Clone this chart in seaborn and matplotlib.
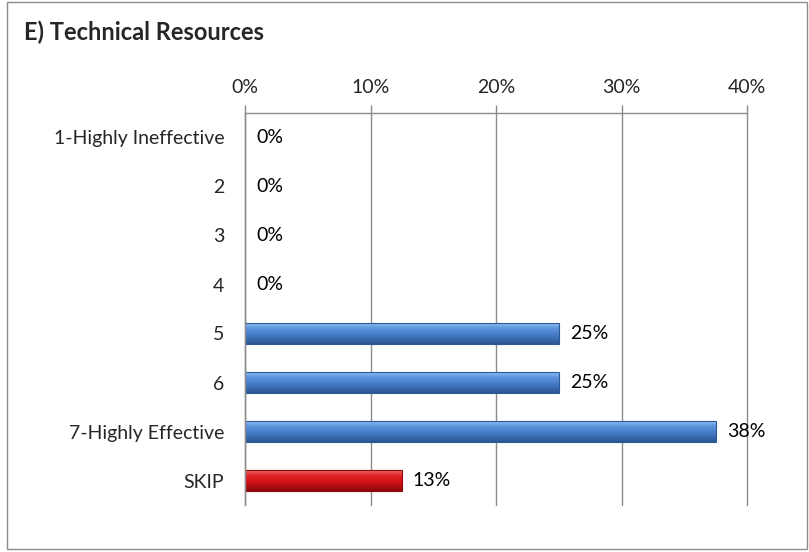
import matplotlib
matplotlib.use("Agg")
import matplotlib.pyplot as plt
import seaborn as sns
import pandas as pd
import numpy as np
from matplotlib.patches import Rectangle
from matplotlib.colors import LinearSegmentedColormap

categories = ["1-Highly Ineffective", "2", "3", "4", "5", "6", "7-Highly Effective", "SKIP"]
values = [0.0, 0.0, 0.0, 0.0, 25.0, 25.0, 37.5, 12.5]
value_labels = ["0%", "0%", "0%", "0%", "25%", "25%", "38%", "13%"]
x_ticks = [0, 10, 20, 30, 40]
x_tick_labels = ["0%", "10%", "20%", "30%", "40%"]
title = "E) Technical Resources"

blue = "#4a80cc"
red = "#d8151b"
bar_colors = [blue] * 7 + [red]

sns.set_theme(style="white")
plt.rcParams["font.family"] = ["Lato", "DejaVu Sans"]

df = pd.DataFrame({"category": categories, "value": values})

fig = plt.figure(figsize=(8.09, 5.52), dpi=100)
ax = fig.add_axes([245 / 809, 47 / 552, 502 / 809, 392 / 552])

sns.barplot(data=df, x="value", y="category", hue="category",
            palette=dict(zip(categories, bar_colors)), legend=False,
            width=0.42, ax=ax, saturation=1.0, orient="h")

blue_cmap = LinearSegmentedColormap.from_list("b", ["#8cbcf0", "#5b93dc", "#4a80cc", "#3a6cb2", "#2c5790"])
red_cmap = LinearSegmentedColormap.from_list("r", ["#f06a6a", "#e0262a", "#d8151b", "#b80e12", "#8c080b"])
edge_cols = ["#dcdcdc"] * 4 + ["#2d5a96"] * 3 + ["#8a0a0e"]
grad = np.linspace(0, 1, 64).reshape(-1, 1)
for p, ec, col in zip(ax.patches, edge_cols, bar_colors):
    p.set_edgecolor(ec)
    p.set_linewidth(0.8)
    w = p.get_width()
    if w > 0:
        x0, y0 = p.get_x(), p.get_y()
        h = p.get_height()
        cmap = blue_cmap if col == blue else red_cmap
        im = ax.imshow(grad, cmap=cmap, aspect="auto",
                       extent=(x0, x0 + w, y0 + h, y0), origin="upper", zorder=p.get_zorder() + 0.1)
        im.set_clip_path(p)
        p.set_facecolor("none")
        p.set_zorder(p.get_zorder() + 0.2)

for i, (v, lab) in enumerate(zip(values, value_labels)):
    ax.annotate(lab, xy=(v, i), xytext=(11, 0), textcoords="offset pixels",
                ha="left", va="center", fontsize=14, color="black")

ax.set_xlim(0, 40)
ax.set_ylim(7.5, -0.5)
ax.set_aspect("auto")
ax.xaxis.tick_top()
ax.set_xticks(x_ticks)
ax.set_xticklabels(x_tick_labels, fontsize=14)
ax.set_yticks(range(len(categories)))
ax.set_yticklabels(categories, fontsize=14)
ax.set_yticks(np.arange(-0.5, 8.0, 1.0), minor=True)
ax.tick_params(axis="y", which="major", length=0, pad=15)
ax.tick_params(axis="y", which="minor", length=6, width=1, color="#888888", direction="out")
ax.tick_params(axis="x", which="major", length=6, width=1, color="#888888", direction="out", pad=6)
ax.set_xlabel("")
ax.set_ylabel("")
ax.grid(axis="x", color="#8c8c8c", linewidth=1)
for gl in ax.get_xgridlines():
    gl.set_clip_on(False)
ax.set_axisbelow(True)
for s in ["right", "bottom"]:
    ax.spines[s].set_visible(False)
for s in ["left", "top"]:
    ax.spines[s].set_visible(True)
    ax.spines[s].set_color("#8c8c8c")
    ax.spines[s].set_linewidth(1)

fig.text(24 / 809, 1 - 32 / 552, title, fontsize=17, fontweight="bold", va="center", ha="left")
fig.patches.append(Rectangle((7 / 809, 3 / 552), 800 / 809, 547 / 552, transform=fig.transFigure,
                             fill=False, edgecolor="#8c8c8c", linewidth=1))

fig.savefig("out.png", dpi=100)
